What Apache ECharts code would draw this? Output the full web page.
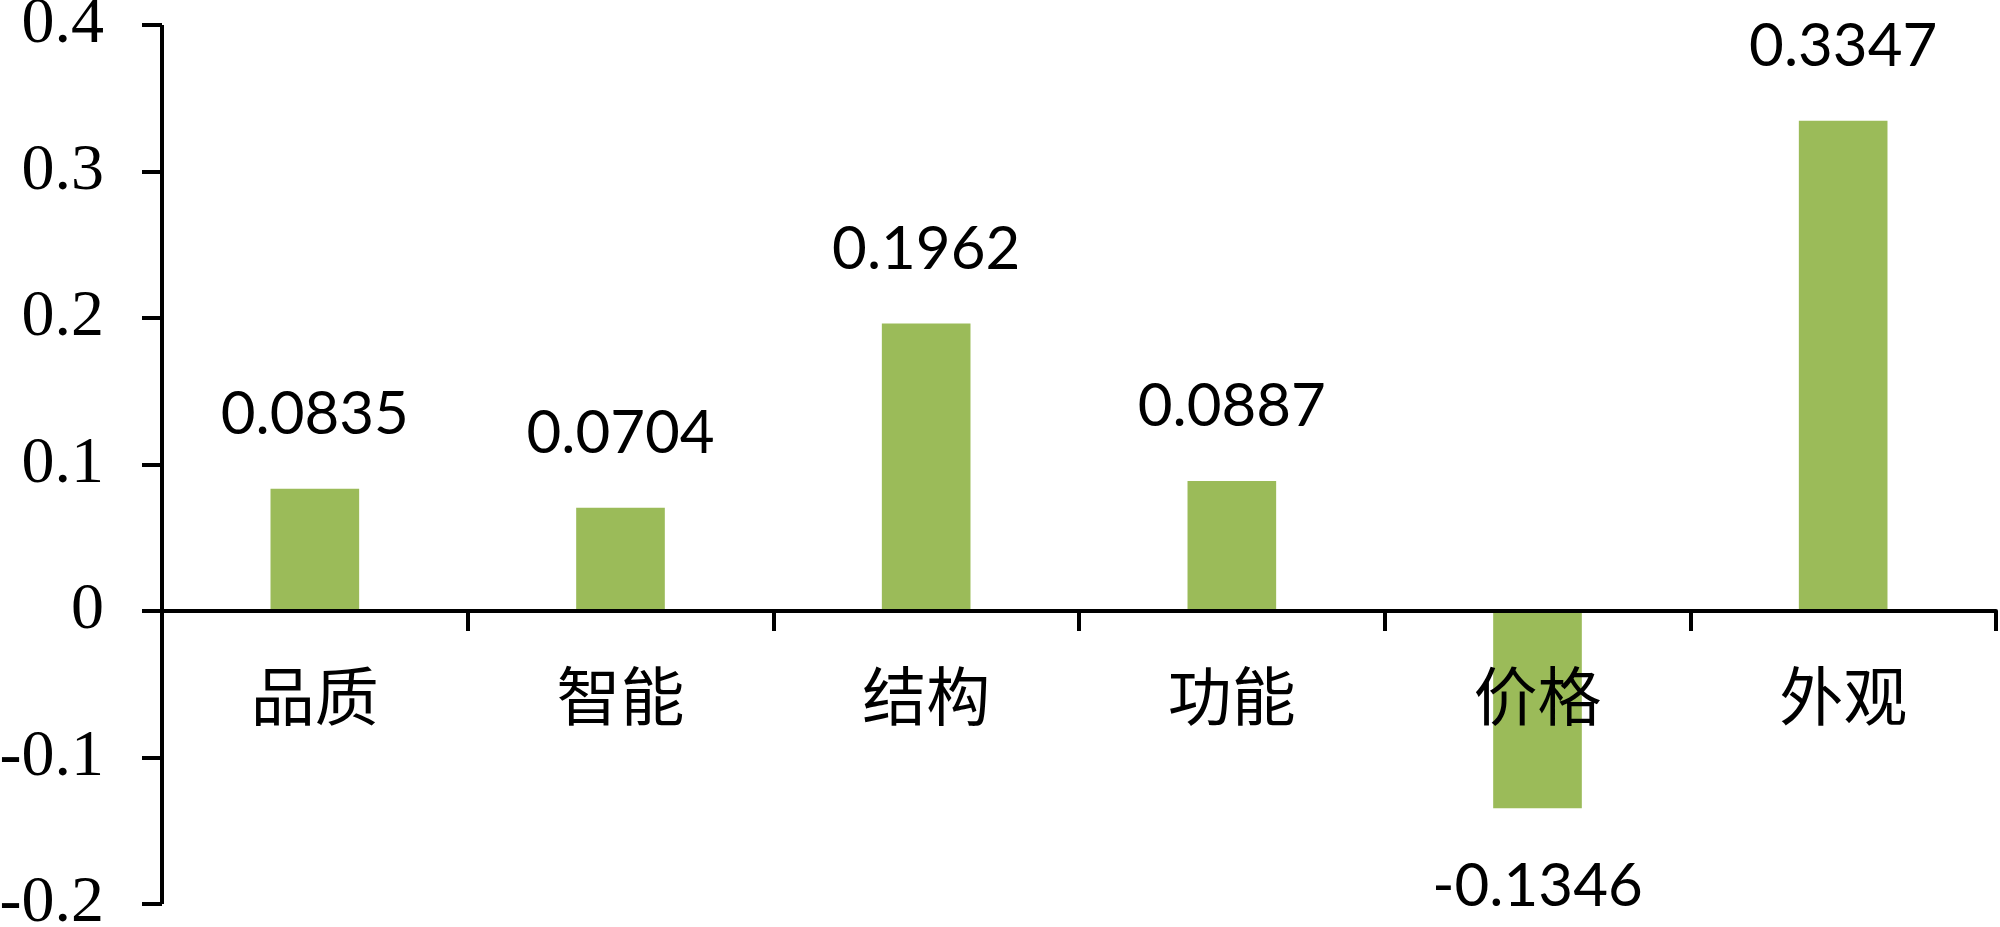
<!DOCTYPE html>
<html>
<head>
<meta charset="utf-8">
<script src="https://cdn.jsdelivr.net/npm/echarts@6/dist/echarts.min.js"></script>
<style>
  html, body { margin: 0; padding: 0; background: #fff; }
  #chart { width: 2000px; height: 927px; }
</style>
</head>
<body>
<div id="chart"></div>
<script>
const categories = ['品质', '智能', '结构', '功能', '价格', '外观']
const values = [0.0835, 0.0704, 0.1962, 0.0887, -0.1346, 0.3347]
const yTicks = [-0.2, -0.1, 0, 0.1, 0.2, 0.3, 0.4]

const chart = echarts.init(document.getElementById('chart'))

const opt = {
    animation: false,
    grid: {
        left: 162,
        right: 4,
        top: 25,
        bottom: 23,
        containLabel: false,
        outerBoundsMode: 'none'
    },
    xAxis: {
        type: 'category',
        data: categories,
        z: 5,
        axisLine: {
            onZero: true,
            lineStyle: { color: '#000', width: 4 }
        },
        axisTick: {
            show: true,
            alignWithLabel: false,
            length: 20,
            lineStyle: { color: '#000', width: 4 }
        },
        axisLabel: {
            // labels stay at the grid bottom in v6, pull them up under the zero line
            margin: -240,
            color: '#000',
            fontSize: 64,
            fontFamily: '"Noto Sans CJK SC"'
        }
    },
    yAxis: {
        type: 'value',
        min: yTicks[0],
        max: yTicks[yTicks.length - 1],
        interval: 0.1,
        splitLine: { show: false },
        axisLine: {
            show: true,
            lineStyle: { color: '#000', width: 4, cap: 'butt' }
        },
        axisTick: {
            show: true,
            length: 20,
            lineStyle: { color: '#000', width: 4 }
        },
        axisLabel: {
            margin: 58,
            color: '#000',
            fontSize: 66,
            fontFamily: '"Liberation Serif", serif',
            formatter: v => String(Math.round(v * 10) / 10)
        }
    },
    series: [
        {
            type: 'bar',
            data: values.map(v => ({
                value: v,
                label: {
                    position: v < 0 ? 'bottom' : 'top',
                    distance: v < 0 ? 48 : 44
                }
            })),
            barWidth: '29%',
            itemStyle: { color: '#9bbb59' },
            label: {
                show: true,
                color: '#000',
                fontSize: 60,
                fontFamily: 'Lato, sans-serif',
                formatter: p => p.value.toFixed(4)
            }
        }
    ]
}
chart.setOption(opt)
</script>
</body>
</html>
